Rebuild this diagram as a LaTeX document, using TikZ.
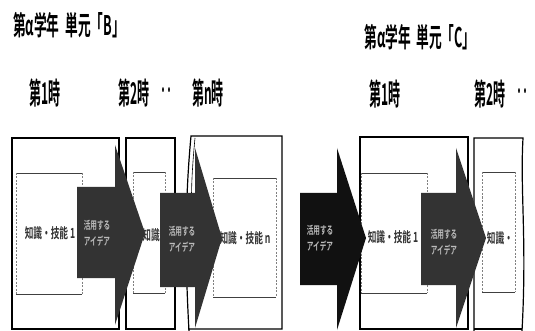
\documentclass[tikz,border=0pt]{standalone}
\usepackage{fontspec}
\usepackage{graphicx}
\newfontfamily\jp{Noto Sans CJK JP Bold}
\newcommand\cnd[2]{\scalebox{#1}[1]{#2}}
\definecolor{arr}{HTML}{333333}
\definecolor{arrk}{HTML}{111111}
\definecolor{atxt}{HTML}{BBBBBB}
\definecolor{itxt}{HTML}{333333}
\tikzset{
  outerbox/.style={draw=black, line width=1.2pt},
  innersolid/.style={draw=black!75, line width=0.8pt},
  innerdash/.style={draw=black!50, line width=0.8pt, dashed, dash pattern=on 2pt off 1.5pt},
  arrowshape/.style={fill=arr, draw=none},
  title/.style={inner sep=0pt, font=\jp\fontsize{27}{27}\selectfont, text=black},
  period/.style={inner sep=0pt, font=\jp\fontsize{30}{30}\selectfont, text=black},
  intext/.style={inner sep=0pt, font=\jp\fontsize{14}{14}\selectfont, text=itxt},
  artext/.style={inner sep=0pt, align=center, font=\jp\fontsize{11}{13}\selectfont, text=atxt},
}
\begin{document}
\begin{tikzpicture}[x=1pt,y=-1pt]
\useasboundingbox (0,0) rectangle (535,331);
% titles
\node[title] (tB) at (69,25) {\cnd{0.47}{第α学年\ \ 単元「B」}};
\node[title] (tC) at (420,37) {\cnd{0.47}{第α学年\ \ 単元「C」}};
\node[period] (p1) at (45,93) {\cnd{0.4}{第1時}};
\node[period] (p2) at (134,93) {\cnd{0.4}{第2時}};
\node[period] (d1) at (166,95) {\cnd{0.4}{‥}};
\node[period] (pn) at (208,93) {\cnd{0.4}{第n時}};
\node[period] (q1) at (385,94) {\cnd{0.4}{第1時}};
\node[period] (q2) at (490,94) {\cnd{0.4}{第2時}};
\node[period] (d2) at (522,96) {\cnd{0.4}{‥}};
% outer boxes
\draw[outerbox] (12,138) rectangle (119,329);
\draw[outerbox] (126,138) rectangle (175,329);
\draw[outerbox] (189,331) .. controls (185,260) and (185,200) .. (191,136) -- (282,136) -- (282,329) -- (188,329);
\draw[black, line width=0.6pt] (195,138) .. controls (191,180) and (191,200) .. (192,230);
\draw[outerbox] (360,137) rectangle (468,329);
\draw[outerbox] (474,331) -- (474,138) -- (523,138) .. controls (520,190) and (527,240) .. (522,331);
\draw[outerbox] (474,329) -- (522,329);
% inner boxes
\foreach \a/\b/\c/\d in {16/173/82/294, 133/172/165/293, 213/178/276/297, 361/173/427/293, 482/172/515/292}{
  \draw[innersolid] (\a,\b) -- (\c,\b);
  \draw[innersolid] (\a,\d) -- (\c,\d);
  \draw[innerdash] (\a,\b) -- (\a,\d);
  \draw[innerdash] (\c,\b) -- (\c,\d);
}
% inner texts
\node[intext] (k1) at (50,233) {\cnd{0.62}{知識・技能 1}};
\node[intext] (k2) at (151,235) {\cnd{0.62}{知識}};
\node[intext] (kn) at (245,238) {\cnd{0.62}{知識・技能 n}};
\node[intext] (k4) at (393,237) {\cnd{0.62}{知識・技能 1}};
\node[intext] (k5) at (500,238) {\cnd{0.62}{知識・}};
% arrows
\fill[arrowshape] (77,187) -- (115,187) -- (115,145) -- (145,233) -- (115,325) -- (115,278) -- (77,278) -- cycle;
\fill[arrowshape] (160,193) -- (195,193) -- (195,148) -- (222,238) -- (195,328) -- (195,287) -- (160,287) -- cycle;
\fill[arrowshape, fill=arrk] (300,193) -- (337,193) -- (337,148) -- (366,238) -- (337,330) -- (337,285) -- (300,285) -- cycle;
\fill[arrowshape] (421,193) -- (456,193) -- (456,148) -- (486,238) -- (456,328) -- (456,285) -- (421,285) -- cycle;
% arrow texts
\node[artext] (a1) at (97,233) {\cnd{0.6}{活用する}\\[3pt]\cnd{0.6}{アイデア}};
\node[artext] (a2) at (182,239) {\cnd{0.6}{活用する}\\[3pt]\cnd{0.6}{アイデア}};
\node[artext] (a3) at (320,238) {\cnd{0.6}{活用する}\\[3pt]\cnd{0.6}{アイデア}};
\node[artext] (a4) at (444,242) {\cnd{0.6}{活用する}\\[3pt]\cnd{0.6}{アイデア}};
\end{tikzpicture}
\end{document}
